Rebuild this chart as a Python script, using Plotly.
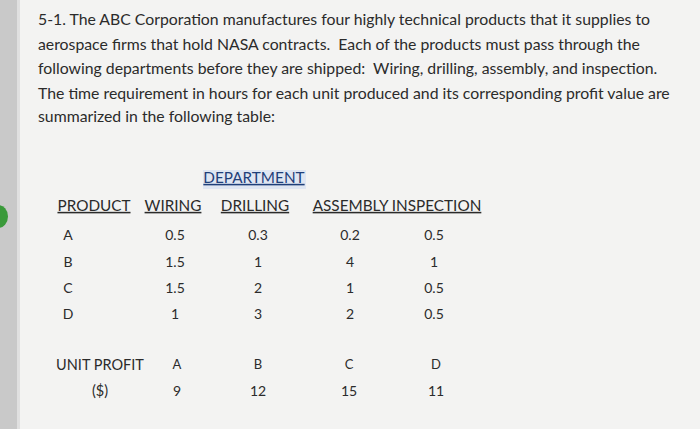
import plotly.graph_objects as go

intro_lines = [
    "5-1. The ABC Corporation manufactures four highly technical products that it supplies to",
    "aerospace firms that hold NASA contracts.  Each of the products must pass through the",
    "following departments before they are shipped:  Wiring, drilling, assembly, and inspection.",
    "The time requirement in hours for each unit produced and its corresponding profit value are",
    "summarized in the following table:",
]
products = ["A", "B", "C", "D"]
wiring = ["0.5", "1.5", "1.5", "1"]
drilling = ["0.3", "1", "2", "3"]
assembly = ["0.2", "4", "1", "2"]
inspection = ["0.5", "1", "0.5", "0.5"]
col_headers = ["PRODUCT", "WIRING", "DRILLING", "ASSEMBLY", "INSPECTION"]
profit_products = ["A", "B", "C", "D"]
profit_values = ["9", "12", "15", "11"]

FONT = "Lato, 'Open Sans', sans-serif"
TXT = "#2b2b2b"
col_x = [92, 175, 258, 350, 434]
row_y = [236, 263, 289, 315]
header_y = 207
profit_x = [177, 258, 349, 436]

fig = go.Figure()

fig.add_trace(go.Scatter(
    x=[38] * len(intro_lines), y=[21, 46, 70, 95, 118],
    mode="text", text=intro_lines, textposition="middle right",
    textfont=dict(family=FONT, size=15.8, color=TXT), hoverinfo="skip"))

fig.add_trace(go.Scatter(
    x=[col_x[0] + 2, 173, 255, 397], y=[header_y] * 4,
    mode="text", text=["<u>" + h + "</u>" for h in col_headers[:3]] + ["<u>" + col_headers[3] + " " + col_headers[4] + "</u>"],
    textfont=dict(family=FONT, size=15.3, color=TXT), hoverinfo="skip"))
fig.add_trace(go.Scatter(
    x=[254], y=[179], mode="text", text=["<u>DEPARTMENT</u>"],
    textfont=dict(family=FONT, size=15.3, color="#1f3f7a"), hoverinfo="skip"))

for xs, vals in zip(col_x, [products, wiring, drilling, assembly, inspection]):
    fig.add_trace(go.Scatter(
        x=[xs - (24 if xs == col_x[0] else 0)] * len(vals), y=row_y,
        mode="text", text=vals, textfont=dict(family=FONT, size=14, color=TXT),
        hoverinfo="skip"))

fig.add_trace(go.Scatter(
    x=[100, 100], y=[366, 392], mode="text", text=["UNIT PROFIT", "($)"],
    textfont=dict(family=FONT, size=14.5, color=TXT), hoverinfo="skip"))
fig.add_trace(go.Scatter(
    x=profit_x, y=[366] * 4, mode="text", text=profit_products,
    textfont=dict(family=FONT, size=13, color=TXT), hoverinfo="skip"))
fig.add_trace(go.Scatter(
    x=profit_x, y=[392] * 4, mode="text", text=profit_values,
    textfont=dict(family=FONT, size=14, color=TXT), hoverinfo="skip"))

fig.add_shape(type="rect", x0=0, x1=17, y0=0, y1=429, fillcolor="#c9c9c9", line_width=0, layer="below")
fig.add_shape(type="rect", x0=17, x1=20, y0=0, y1=429, fillcolor="#e0e0e0", line_width=0, layer="below")
fig.add_shape(type="circle", x0=-12, x1=8, y0=205, y1=228, fillcolor="#3a9a3a", line_width=0)
fig.add_shape(type="rect", x0=203, x1=306, y0=170, y1=189, fillcolor="#dfe6f2", line_width=0, layer="below")

fig.update_layout(
    width=700, height=429, margin=dict(l=0, r=0, t=0, b=0),
    paper_bgcolor="#f3f3f2", plot_bgcolor="#f3f3f2", showlegend=False,
    xaxis=dict(range=[0, 700], visible=False, fixedrange=True),
    yaxis=dict(range=[429, 0], visible=False, fixedrange=True),
)
fig.write_html("out.html", config={"displayModeBar": False},
               post_script="document.body.style.margin='0';document.body.style.overflow='hidden';")
